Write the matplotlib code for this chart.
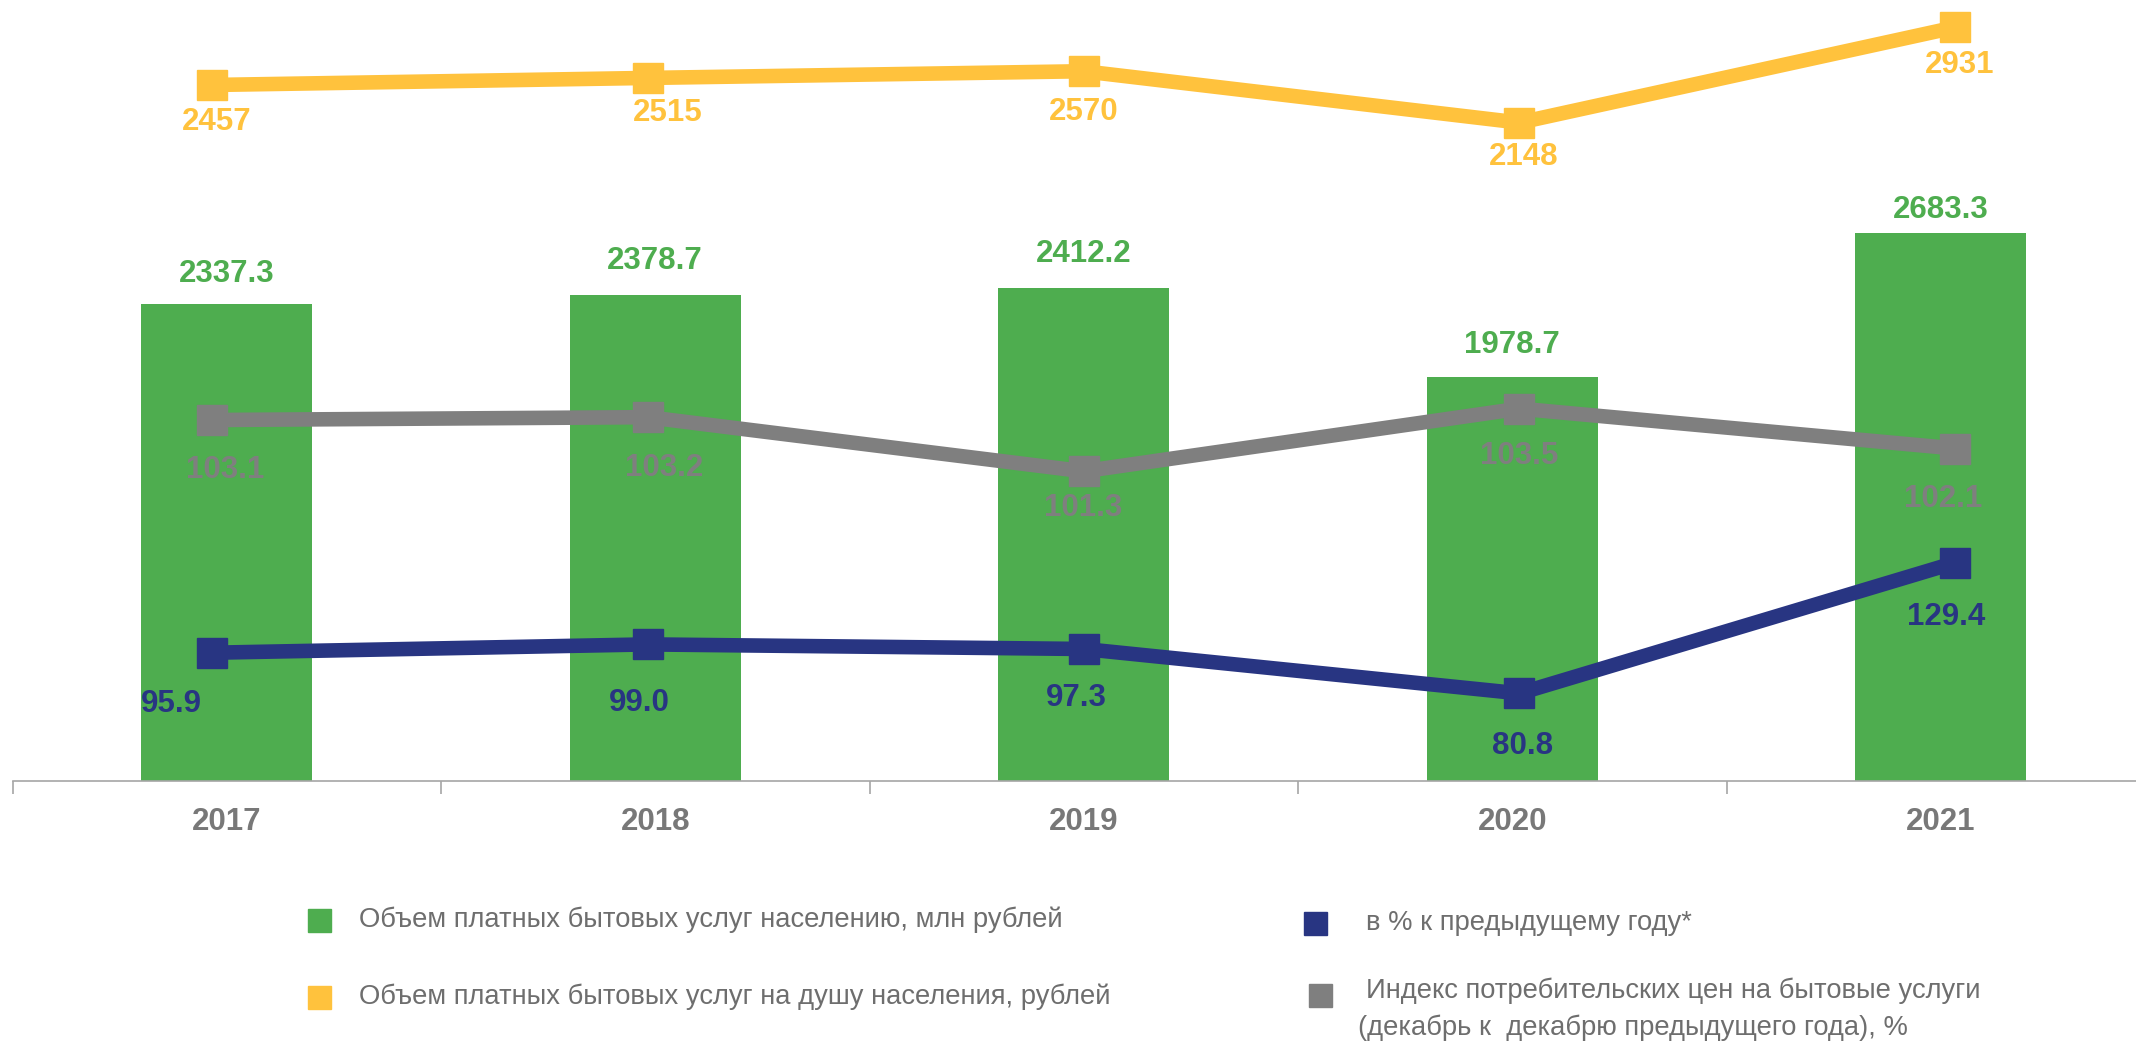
import matplotlib
matplotlib.use("Agg")
import matplotlib.pyplot as plt
import numpy as np

plt.rcParams['font.family'] = ['Liberation Sans', 'DejaVu Sans']

years = ["2017", "2018", "2019", "2020", "2021"]
volume_mln = [2337.3, 2378.7, 2412.2, 1978.7, 2683.3]
per_capita = [2457, 2515, 2570, 2148, 2931]
pct_prev = [95.9, 99.0, 97.3, 80.8, 129.4]
cpi = [103.1, 103.2, 101.3, 103.5, 102.1]

legend_labels = [
    "Объем платных бытовых услуг населению, млн рублей",
    "Объем платных бытовых услуг на душу населения, рублей",
    "в % к предыдущему году*",
    "Индекс потребительских цен на бытовые услуги\n(декабрь к  декабрю предыдущего года), %",
]

GREEN = "#4EAD4F"
YELLOW = "#FFC23D"
GRAY = "#7F7F7F"
BLUE = "#283582"
TXT = "#787878"
LEGTXT = "#6E6E6E"

W, H = 2136, 1041
fig = plt.figure(figsize=(W / 100, H / 100), dpi=100)
pos = [12.5 / W, 0.2502, 2142.5 / W, 0.7498]

ax = fig.add_axes(pos)
x = np.arange(len(years))
ax.bar(x, volume_mln, width=0.40, color=GREEN, zorder=1)
ax.set_xlim(-0.5, 4.5)
ax.set_ylim(0, 3825)
for s in ["top", "left", "right"]:
    ax.spines[s].set_visible(False)
ax.spines["bottom"].set_color("#A6A6A6")
ax.spines["bottom"].set_linewidth(1.2)
ax.set_yticks([])
ax.set_xticks(x, years)
ax.tick_params(axis="x", length=0, pad=19, labelsize=22.5, labelcolor=TXT)
for t in ax.get_xticklabels():
    t.set_fontweight("bold")
ax.set_xticks(np.arange(-0.5, 5.0, 1.0), minor=True)
ax.tick_params(axis="x", which="minor", length=9, color="#A6A6A6", width=1.2)

g_off = [22, 25, 25, 23, 17]
for xi, v, o in zip(x, volume_mln, g_off):
    ax.annotate(f"{v:.1f}", (xi, v), xytext=(0, o * 0.98), textcoords="offset points",
                ha="center", va="center", color=GREEN, fontsize=22.5, fontweight="bold")

lx_lim = (-0.457, 4.458)

def line_axes(vals, lim, color, lw, offs, fmt):
    a = fig.add_axes(pos)
    a.patch.set_visible(False)
    a.axis("off")
    a.set_xlim(*lx_lim)
    a.set_ylim(*lim)
    a.plot(x, vals, color=color, lw=lw, marker="s", ms=21, mec=color, mfc=color,
           solid_joinstyle="miter")
    for xi, v, (dx, dy) in zip(x, vals, offs):
        a.annotate(fmt(v), (xi, v), xytext=(dx * 0.98, -dy * 0.98), textcoords="offset points",
                   ha="center", va="center", color=color, fontsize=22.5, fontweight="bold")
    return a

line_axes(per_capita, (-3255, 3155), YELLOW, 10.5,
          [(4, 27), (15, 26), (0, 30), (3, 25), (3, 28)], lambda v: f"{v:d}")
line_axes(cpi, (90.44, 117.85), GRAY, 10.5,
          [(10, 37), (12, 37), (0, 27), (0, 35), (-9, 37)], lambda v: f"{v:.1f}")
line_axes(pct_prev, (48.4, 338.5), BLUE, 10.5,
          [(-30, 38), (-6, 43), (-5, 36), (2, 39), (-7, 40)], lambda v: f"{v:.1f}")

# legend
LFS = 19.7
leg_items = [
    (GREEN, 319, 920, 359, 920, legend_labels[0]),
    (YELLOW, 319, 997, 359, 997, legend_labels[1]),
    (BLUE, 1315, 923, 1366, 923, legend_labels[2]),
]
for c, mx, my, tx, ty, lab in leg_items:
    fig.patches.append(plt.Rectangle(((mx - 11.5) / W, 1 - (my + 11.5) / H), 23 / W, 23 / H,
                                     transform=fig.transFigure, color=c, figure=fig))
    fig.text(tx / W, 1 - ty / H, lab, ha="left", va="center", color=LEGTXT, fontsize=LFS)

fig.patches.append(plt.Rectangle(((1320 - 11.5) / W, 1 - (995 + 11.5) / H), 23 / W, 23 / H,
                                 transform=fig.transFigure, color=GRAY, figure=fig))
l1, l2 = legend_labels[3].split("\n")
fig.text(1366 / W, 1 - 991 / H, l1, ha="left", va="center", color=LEGTXT, fontsize=LFS)
fig.text(1358 / W, 1 - 1028 / H, l2, ha="left", va="center", color=LEGTXT, fontsize=LFS)

fig.savefig("out.png", dpi=100)
